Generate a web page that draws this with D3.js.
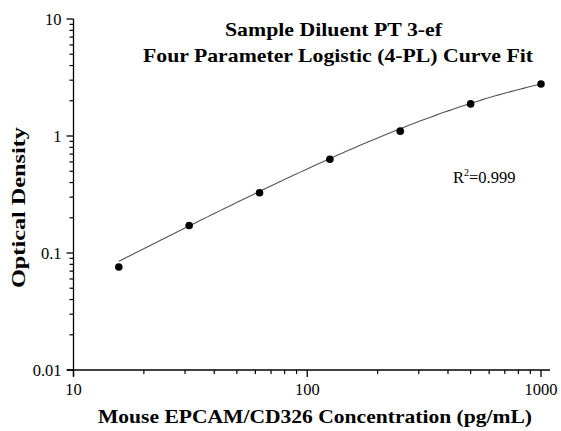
<!DOCTYPE html>
<html><head><meta charset="utf-8">
<script src="https://cdn.jsdelivr.net/npm/d3@7"></script>
<style>body{margin:0;background:#fff}svg{display:block}text{font-family:"Liberation Serif","Times New Roman",serif}</style>
</head><body>
<svg id="c" width="561" height="431"></svg>
<script>
const concentrations = [15.625, 31.25, 62.5, 125, 250, 500, 1000];
const odValues = [0.076, 0.172, 0.327, 0.632, 1.10, 1.88, 2.78];
// 4PL fit parameters: a (bottom), b (slope), c (EC50), d (top)
const fitParams = {a: 0.0, b: 1.03, c: 804, d: 5.0};
const xTicks = [10, 100, 1000];
const yTicks = [0.01, 0.1, 1, 10];
const titleLines = ["Sample Diluent PT 3-ef", "Four Parameter Logistic (4-PL) Curve Fit"];

const svg = d3.select("#c");
const x = d3.scaleLog().domain([10, 1000]).range([73.5, 541]);
const y = d3.scaleLog().domain([0.01, 10]).range([370, 19]);

function minorTicks(lo, hi) {
  const out = [];
  for (let e = Math.log10(lo); e < Math.log10(hi); e++) {
    for (let k = 2; k <= 9; k++) out.push(k * Math.pow(10, e));
  }
  return out;
}

// Y axis
const gy = svg.append("g");
gy.append("line").attr("x1", x(10)).attr("x2", x(10)).attr("y1", y(10)).attr("y2", 376).attr("stroke", "#000").attr("stroke-width", 1.3);
gy.selectAll(".ym").data(minorTicks(0.01, 10)).join("line")
  .attr("x1", x(10) - 4).attr("x2", x(10)).attr("y1", d => y(d)).attr("y2", d => y(d)).attr("stroke", "#000").attr("stroke-width", 1.2);
gy.selectAll(".yM").data(yTicks).join("line")
  .attr("x1", x(10) - 7).attr("x2", x(10)).attr("y1", d => y(d)).attr("y2", d => y(d)).attr("stroke", "#000").attr("stroke-width", 1.3);
gy.selectAll(".yl").data(yTicks).join("text")
  .attr("x", x(10) - 12).attr("y", d => y(d) + 5.5).attr("text-anchor", "end").attr("font-size", 16.5)
  .text(d => d3.format("~g")(d));

// X axis
const gx = svg.append("g");
gx.append("line").attr("x1", 67).attr("x2", 550).attr("y1", y(0.01)).attr("y2", y(0.01)).attr("stroke", "#000").attr("stroke-width", 1.3);
gx.selectAll(".xm").data(minorTicks(10, 1000)).join("line")
  .attr("x1", d => x(d)).attr("x2", d => x(d)).attr("y1", y(0.01)).attr("y2", y(0.01) + 4).attr("stroke", "#000").attr("stroke-width", 1.2);
gx.selectAll(".xM").data(xTicks).join("line")
  .attr("x1", d => x(d)).attr("x2", d => x(d)).attr("y1", y(0.01)).attr("y2", y(0.01) + 7).attr("stroke", "#000").attr("stroke-width", 1.3);
gx.selectAll(".xl").data(xTicks).join("text")
  .attr("x", d => x(d)).attr("y", 395).attr("text-anchor", "middle").attr("font-size", 16.5)
  .text(d => d);

// Curve
const f = t => fitParams.d + (fitParams.a - fitParams.d) / (1 + Math.pow(t / fitParams.c, fitParams.b));
const curveX = d3.range(0, 101).map(i => Math.pow(10, Math.log10(concentrations[0]) + i / 100 * (Math.log10(1000) - Math.log10(concentrations[0]))));
svg.append("path").datum(curveX)
  .attr("d", d3.line().x(d => x(d)).y(d => y(f(d))))
  .attr("fill", "none").attr("stroke", "#555").attr("stroke-width", 1.1);

// Points
svg.selectAll(".pt").data(concentrations).join("circle")
  .attr("cx", d => x(d)).attr("cy", (d, i) => y(odValues[i])).attr("r", 3.8).attr("fill", "#000");

// Titles
const titleLens = [217, 390];
svg.selectAll(".tt").data(titleLines).join("text")
  .attr("x", (d, i) => i === 0 ? 225 : 143).attr("y", (d, i) => 36 + i * 26)
  .attr("textLength", (d, i) => titleLens[i]).attr("lengthAdjust", "spacingAndGlyphs")
  .attr("font-size", 19.5).attr("font-weight", "bold").text(d => d);

// R^2
const r = svg.append("text").attr("x", 453).attr("y", 183).attr("font-size", 16.5);
r.append("tspan").text("R");
r.append("tspan").attr("font-size", 10).attr("dy", -7).text("2");
r.append("tspan").attr("dy", 7).text("=0.999");

// Axis labels
svg.append("text").attr("x", 98).attr("y", 423)
  .attr("textLength", 434).attr("lengthAdjust", "spacingAndGlyphs")
  .attr("font-size", 19.5).attr("font-weight", "bold").text("Mouse EPCAM/CD326 Concentration (pg/mL)");
svg.append("text").attr("transform", "translate(25,288) rotate(-90)")
  .attr("textLength", 161).attr("lengthAdjust", "spacingAndGlyphs")
  .attr("font-size", 19.5).attr("font-weight", "bold").text("Optical Density");
</script>
</body></html>
